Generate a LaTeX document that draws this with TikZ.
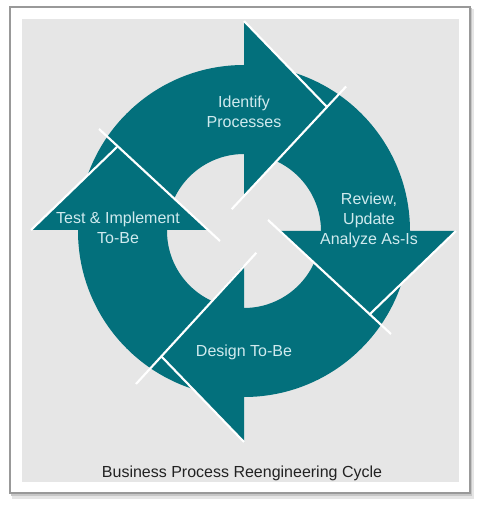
\documentclass[tikz,border=0pt]{standalone}
\usepackage{fontspec}
\setmainfont{Liberation Sans}
\definecolor{tealA}{RGB}{3,112,124}
\definecolor{bggray}{RGB}{230,230,230}
\definecolor{txtc}{RGB}{208,234,238}
\definecolor{capc}{RGB}{34,34,34}
\begin{document}
\begin{tikzpicture}[x=0.75pt,y=-0.75pt,
  wline/.style={draw=white,line width=1.6pt},
  headfill/.style={fill=tealA},
  lbl/.style={text=txtc,font=\fontsize{12}{15}\selectfont,align=center,inner sep=0pt},
  caption/.style={text=capc,font=\fontsize{12}{15}\selectfont,inner sep=0pt}]
\useasboundingbox (0,0) rectangle (480,505);
\fill[white] (0,0) rectangle (480,505);
% frame with shadow
\fill[black!10] (12,9) rectangle (474,499);
\fill[black!22] (11,8) rectangle (472,496);
\filldraw[fill=white,draw=black!40,line width=1.1pt] (10,7) rectangle (470,493);
\fill[bggray] (22,19) rectangle (459,482);
% ring
\fill[tealA,even odd rule] (244,231) circle[radius=124.5pt] (244,231) circle[radius=57.75pt];
% arrowheads
% Identify (top, pointing right)
\coordinate (i1) at (244,21);
\coordinate (i2) at (244,196);
\coordinate (it) at (327,107);
\coordinate (is) at (231.7,209.2);
\coordinate (ie) at (346.1,86.5);
% Review (right, pointing down)
\coordinate (r1) at (456,231);
\coordinate (r2) at (279,231);
\coordinate (rt) at (370,314);
\coordinate (rs) at (268,220);
\coordinate (re) at (391,334);
% Design (bottom, pointing left)
\coordinate (d1) at (244,442);
\coordinate (d2) at (244,265);
\coordinate (dt) at (161,356);
\coordinate (ds) at (256.3,252.8);
\coordinate (de) at (136,384);
% Test (left, pointing up)
\coordinate (t1) at (31,230);
\coordinate (t2) at (208,230);
\coordinate (tt) at (117,147);
\coordinate (ts) at (220,241);
\coordinate (te) at (99,129);
\fill[headfill] (i1) -- (i2) -- (it) -- cycle;
\fill[headfill] (r1) -- (r2) -- (rt) -- cycle;
\fill[headfill] (d1) -- (d2) -- (dt) -- cycle;
\fill[headfill] (t1) -- (t2) -- (tt) -- cycle;
\draw[wline] (i1) -- (it);
\draw[wline] (is) -- (ie);
\draw[wline] (r1) -- (rt);
\draw[wline] (rs) -- (re);
\draw[wline] (d1) -- (dt);
\draw[wline] (ds) -- (de);
\draw[wline] (t1) -- (tt);
\draw[wline] (ts) -- (te);
% labels
\node[lbl] (identify) at (244,112) {Identify\\Processes};
\node[lbl] (review) at (369,220) {Review,\\Update\\Analyze As-Is};
\node[lbl] (test) at (118,228) {Test \& Implement\\To-Be};
\node[lbl] (design) at (244,352) {Design To-Be};
\node[caption] (cap) at (242,473) {Business Process Reengineering Cycle};
\end{tikzpicture}
\end{document}
